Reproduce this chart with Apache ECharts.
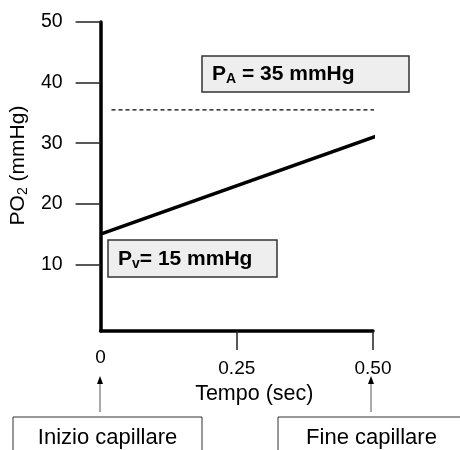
<!DOCTYPE html>
<html>
<head>
<meta charset="utf-8">
<script src="https://cdn.jsdelivr.net/npm/echarts@6/dist/echarts.min.js"></script>
<style>
  html, body { margin: 0; padding: 0; background: #fff; }
  #chart { width: 460px; height: 450px; }
</style>
</head>
<body>
<div id="chart"></div>
<script>
// values
const yTicks = [10, 20, 30, 40, 50];
const xTicks = [0.25, 0.5];
const xLabels = [0, 0.25, 0.5];
const po2Line = [[0, 15], [0.51, 31.3]];   // PO2 along capillary
const paLine = [[0.02, 35.5], [0.52, 35.5]]; // alveolar PA (dashed)

const font = 'Liberation Sans, Arial, sans-serif';

const chart = echarts.init(document.getElementById('chart'));

const option = {
  animation: false,
  grid: { left: 100, right: 87, top: 22, bottom: 119 },
  xAxis: {
    type: 'value',
    min: 0,
    max: 0.5,
    splitLine: { show: false },
    axisLine: { onZero: false, lineStyle: { color: '#000', width: 3.5 } },
    axisTick: { show: true, customValues: xTicks, length: 19, lineStyle: { color: '#222', width: 1.5 } },
    axisLabel: {
      customValues: xLabels,
      margin: 17,
      color: '#000',
      fontFamily: font,
      fontSize: 19,
      // "0" sits higher than the other two labels
      formatter: v => v === 0 ? '0' : '{n|' + (v === 0.5 ? '0.50' : String(v)) + '}',
      rich: { n: { fontFamily: font, fontSize: 19, color: '#000', padding: [11, 0, 0, 0] } }
    },
    name: 'Tempo (sec)',
    nameLocation: 'middle',
    nameGap: 52,
    nameTextStyle: { color: '#000', fontFamily: font, fontSize: 21.5, padding: [0, 0, 0, 35] }
  },
  yAxis: {
    type: 'value',
    min: -1,
    max: 50,
    splitLine: { show: false },
    axisLine: { lineStyle: { color: '#000', width: 3.5 } },
    axisTick: { show: true, customValues: yTicks, length: 25, lineStyle: { color: '#222', width: 1.5 } },
    axisLabel: {
      customValues: yTicks,
      margin: 38,
      color: '#000',
      fontFamily: font,
      fontSize: 19.5
    },
    name: '{a|PO}{s|2}{a| (mmHg)}',
    nameLocation: 'middle',
    nameRotate: 90,
    nameGap: 62,
    nameTextStyle: {
      padding: [0, 0, 0, 22],
      rich: {
        a: { fontFamily: font, fontSize: 21, color: '#000' },
        s: { fontFamily: font, fontSize: 14, color: '#000', padding: [9, 0, 0, 0] }
      }
    }
  },
  series: [
    {
      type: 'line',
      data: po2Line,
      symbol: 'none',
      clip: false,
      lineStyle: { color: '#000', width: 3.5 }
    },
    {
      type: 'line',
      data: paLine,
      symbol: 'none',
      clip: false,
      lineStyle: { color: '#000', width: 1.2, type: [4, 3] }
    }
  ],
  graphic: [
    // PA box
    { type: 'rect', shape: { x: 202, y: 56, width: 207, height: 36 },
      style: { fill: '#eeeeee', stroke: '#333', lineWidth: 1.5 } },
    { type: 'text', x: 212, y: 74,
      style: {
        text: '{b|P}{s|A}{b| = 35 mmHg}', verticalAlign: 'middle',
        rich: {
          b: { fontFamily: font, fontSize: 21, fontWeight: 'bold', fill: '#000' },
          s: { fontFamily: font, fontSize: 14, fontWeight: 'bold', fill: '#000', padding: [11, 0, 0, 0] }
        }
      } },
    // Pv box
    { type: 'rect', shape: { x: 108, y: 240, width: 169, height: 37 },
      style: { fill: '#eeeeee', stroke: '#333', lineWidth: 1.5 } },
    { type: 'text', x: 118, y: 259,
      style: {
        text: '{b|P}{s|v}{b|= 15 mmHg}', verticalAlign: 'middle',
        rich: {
          b: { fontFamily: font, fontSize: 21, fontWeight: 'bold', fill: '#000' },
          s: { fontFamily: font, fontSize: 14, fontWeight: 'bold', fill: '#000', padding: [11, 0, 0, 0] }
        }
      } },
    // arrows
    { type: 'line', shape: { x1: 100, y1: 412, x2: 100, y2: 383 }, style: { stroke: '#555', lineWidth: 1 } },
    { type: 'polygon', shape: { points: [[100, 376], [97, 384], [103, 384]] }, style: { fill: '#000' } },
    { type: 'line', shape: { x1: 371, y1: 412, x2: 371, y2: 383 }, style: { stroke: '#555', lineWidth: 1 } },
    { type: 'polygon', shape: { points: [[371, 376], [368, 384], [374, 384]] }, style: { fill: '#000' } },
    // bottom boxes
    { type: 'rect', shape: { x: 13, y: 417, width: 189, height: 50 },
      style: { fill: '#fff', stroke: '#333', lineWidth: 1 } },
    { type: 'text', x: 107.5, y: 438,
      style: { text: 'Inizio capillare', fontFamily: font, fontSize: 22, fill: '#000', align: 'center', verticalAlign: 'middle' } },
    { type: 'rect', shape: { x: 278, y: 417, width: 200, height: 50 },
      style: { fill: '#fff', stroke: '#333', lineWidth: 1 } },
    { type: 'text', x: 371.5, y: 438,
      style: { text: 'Fine capillare', fontFamily: font, fontSize: 22, fill: '#000', align: 'center', verticalAlign: 'middle' } }
  ]
};

chart.setOption(option);
</script>
</body>
</html>
